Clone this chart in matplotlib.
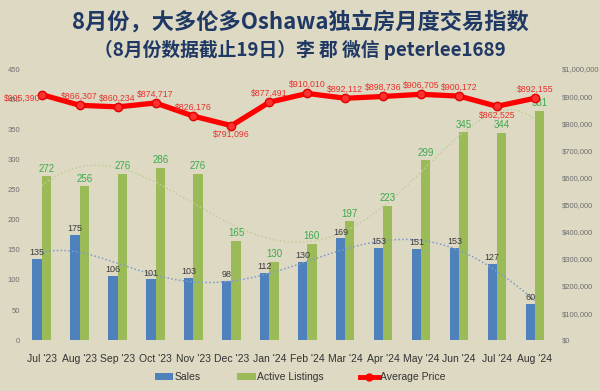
import numpy as np
import matplotlib
matplotlib.use("Agg")
import matplotlib.pyplot as plt
from matplotlib.lines import Line2D
from matplotlib.patches import Patch

plt.rcParams['font.family'] = ['Liberation Sans', 'Noto Sans CJK SC', 'DejaVu Sans']

months = ["Jul '23", "Aug '23", "Sep '23", "Oct '23", "Nov '23", "Dec '23", "Jan '24",
          "Feb '24", "Mar '24", "Apr '24", "May '24", "Jun '24", "Jul '24", "Aug '24"]
sales = [135, 175, 106, 101, 103, 98, 112, 130, 169, 153, 151, 153, 127, 60]
listings = [272, 256, 276, 286, 276, 165, 130, 160, 197, 223, 299, 345, 344, 381]
prices = [905390, 866307, 860234, 874717, 826176, 791096, 877491, 910010,
          892112, 898736, 906705, 900172, 862525, 892155]
label_pos = ['left', 'above', 'above', 'above', 'above', 'below', 'above', 'above',
             'above', 'above', 'above', 'above', 'below', 'above']
left_ticks = [0, 50, 100, 150, 200, 250, 300, 350, 400, 450]
right_ticks = [0, 100000, 200000, 300000, 400000, 500000, 600000, 700000, 800000, 900000, 1000000]

title = "8月份，大多伦多Oshawa独立房月度交易指数"
subtitle = "（8月份数据截止19日）李 郡 微信 peterlee1689"

bg = '#DDD9C3'
blue = '#4F81BD'
green = '#9BBB59'
red = '#FF0000'
navy = '#1F3864'

fig = plt.figure(figsize=(6, 3.91), dpi=100, facecolor=bg)
ax = fig.add_axes([0.038, 0.130, 0.885, 0.6935])
ax.set_facecolor(bg)
x = np.arange(len(months))
w = 0.245
ax.bar(x - w/2, sales, width=w, color=blue, zorder=2)
ax.bar(x + w/2, listings, width=w, color=green, zorder=2)

for i in range(len(months)):
    ax.text(x[i] - w/2, sales[i] + 3, str(sales[i]), ha='center', va='bottom',
            fontsize=6.5, color='#3A3A3A', zorder=5)
    ax.text(x[i] + w/2, listings[i] + 4, str(listings[i]), ha='center', va='bottom',
            fontsize=7, color='#3DAA4E', zorder=5)

# polynomial trendlines (Excel style)
xs = np.linspace(0, len(months) - 1, 300)
ps = np.polyfit(x, sales, 5)
pl = np.polyfit(x, listings, 5)
ax.plot(xs, np.polyval(ps, xs), linestyle=(0, (1, 1.5)), color='#7E9CC8', lw=1.1, zorder=3)
ax.plot(xs, np.polyval(pl, xs), linestyle=(0, (1, 1.5)), color='#C2CF9A', lw=1.1, zorder=3)

ax.set_xlim(-0.5, len(months) - 0.5)
ax.set_ylim(0, 450)
ax.set_yticks(left_ticks)
ax.set_yticklabels([str(t) for t in left_ticks], fontsize=5.5, color='#707070')
ax.set_xticks(x)
ax.set_xticklabels(months, fontsize=7.5, color='#333333')
ax.tick_params(length=0, pad=2)
ax.tick_params(axis='x', pad=10)
for s in ax.spines.values():
    s.set_visible(False)

ax2 = ax.twinx()
ax2.plot(x, prices, color=red, lw=3.8, marker='o', markersize=6,
         markerfacecolor='#FF3030', markeredgecolor='#E00000', zorder=6, solid_capstyle='round')
ax2.set_ylim(0, 1000000)
ax2.set_yticks(right_ticks)
ax2.set_yticklabels(['$' + format(t, ',') for t in right_ticks], fontsize=5.5, color='#707070')
ax2.tick_params(length=0, pad=6)
for s in ax2.spines.values():
    s.set_visible(False)

for i, p in enumerate(prices):
    lab = '$' + format(p, ',')
    if label_pos[i] == 'above':
        ax2.text(x[i], p + 16000, lab, ha='center', va='bottom', fontsize=6.3, color='#E8312B', zorder=7)
    elif label_pos[i] == 'below':
        ax2.text(x[i], p - 16000, lab, ha='center', va='top', fontsize=6.3, color='#E8312B', zorder=7)
    else:
        ax2.text(x[i] - 0.04, p - 12000, lab, ha='right', va='center', fontsize=6.3, color='#E8312B', zorder=7)

fig.text(0.5, 0.944, title, ha='center', va='center', fontsize=16, fontweight='bold',
         color=navy, family=['Noto Sans CJK SC', 'DejaVu Sans'])
fig.text(0.5, 0.872, subtitle, ha='center', va='center', fontsize=13.5, fontweight='bold',
         color=navy, family=['Noto Sans CJK SC', 'DejaVu Sans'])

handles = [Patch(facecolor=blue, label='Sales'),
           Patch(facecolor=green, label='Active Listings'),
           Line2D([0], [0], color=red, lw=3.5, marker='o', markersize=5, label='Average Price')]
fig.legend(handles=handles, loc='center', bbox_to_anchor=(0.5, 0.035), ncol=3, frameon=False,
           fontsize=7.5, handlelength=1.8, handleheight=0.6, columnspacing=3.5, handletextpad=0.1,
           labelcolor='#333333')

fig.savefig('out.png', dpi=100, facecolor=bg)
